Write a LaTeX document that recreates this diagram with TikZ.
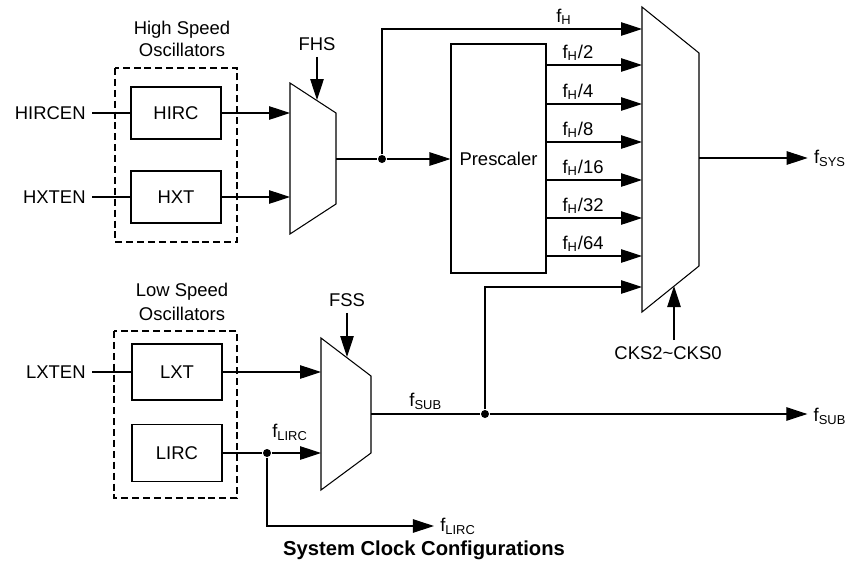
\documentclass[tikz,border=0pt]{standalone}
\usepackage{fontspec}
\setmainfont{Liberation Sans}
\usetikzlibrary{arrows.meta,positioning}

\begin{document}
\begin{tikzpicture}[
    x=0.02cm, y=-0.02cm, line width=0.6pt,
    font=\fontsize{10.5}{12.5}\selectfont,
    osc/.style={draw, rectangle, minimum width=1.8cm, minimum height=1.04cm},
    grp/.style={draw, dashed, line width=0.9pt, dash pattern=on 4pt off 2.2pt},
    sig/.style={inner sep=2pt},
    dot/.style={circle, fill, inner sep=0pt, minimum size=0.16cm},
    arr/.style={-{Triangle[length=0.42cm, width=0.27cm]}}
  ]
    \useasboundingbox (0,0) rectangle (848,575);

    % high speed oscillators
    \node at (182,30) {High Speed};
    \node at (182,50) {Oscillators};
    \draw[grp] (115,68) rectangle (237,242);
    \node[osc] (hirc) at (176,113) {HIRC};
    \node[osc] (hxt) at (176,197) {HXT};
    \node[anchor=east] (hircen) at (92,113) {HIRCEN};
    \node[anchor=east] (hxten) at (92,197) {HXTEN};
    \draw (hircen) -- (hirc);
    \draw (hxten) -- (hxt);

    % FHS mux
    \draw (290,83) -- (336,113) -- (336,204) -- (290,234) -- cycle;
    \coordinate (fhs-a) at (290,113);
    \coordinate (fhs-b) at (290,197);
    \coordinate (fhs-o) at (336,159);
    \coordinate (fhs-s) at (317,100);
    \node (fhs) at (317,44) {FHS};
    \draw[arr] (hirc) -- (fhs-a);
    \draw[arr] (hxt) -- (fhs-b);
    \draw[arr] (fhs.south) -- (fhs-s);

    % prescaler
    \node[draw, minimum width=1.9cm, minimum height=4.58cm] (pre) at (498.5,158.5) {Prescaler};
    \node[dot] (fh) at (382,159) {};
    \draw (fhs-o) -- (fh);
    \draw[arr] (fh) -- (fh -| pre.west);

    % system clock mux
    \draw (642,7) -- (699,53) -- (699,266) -- (642,312) -- cycle;
    \coordinate (sys-0) at (642,29);
    \foreach \i/\y in {1/65,2/104,3/142,4/180,5/218,6/256,7/287}
      \coordinate (sys-\i) at (642,\y);
    \coordinate (sys-o) at (699,158);
    \coordinate (sys-s) at (674,286);
    \draw[arr] (fh) |- node[pos=0.85, above, sig] {f\textsubscript{H}} (sys-0);
    \foreach \i/\d in {1/2,2/4,3/8,4/16,5/32,6/64}
      \draw[arr] (pre.east |- sys-\i) -- node[pos=0, above right, sig, xshift=0.24cm] {f\textsubscript{H}/\d} (sys-\i);
    \node (fsys) at (830,158) {f\textsubscript{SYS}};
    \draw[arr] (sys-o) -- (sys-o -| fsys.west);
    \node (cks) at (668,353) {CKS2\textasciitilde CKS0};
    \draw[arr] (cks.north -| sys-s) -- (sys-s);

    % low speed oscillators
    \node at (182,292) {Low Speed};
    \node at (182,314) {Oscillators};
    \draw[grp] (114,331) rectangle (237,498);
    \node[osc, minimum height=1.12cm] (lxt) at (177,372) {LXT};
    \node[osc, minimum height=1.14cm] (lirc) at (177,453) {LIRC};
    \node[anchor=east] (lxten) at (92,372) {LXTEN};
    \draw (lxten) -- (lxt);

    % FSS mux
    \draw (321,338) -- (371,376) -- (371,453) -- (321,490) -- cycle;
    \coordinate (fss-a) at (321,372);
    \coordinate (fss-b) at (321,453);
    \coordinate (fss-o) at (371,414);
    \coordinate (fss-s) at (347,357);
    \node (fss) at (347,300) {FSS};
    \draw[arr] (lxt) -- (fss-a);
    \draw[arr] (fss.south) -- (fss-s);
    \node[dot] (flirc) at (267,453) {};
    \draw (lirc) -- (flirc);
    \draw[arr] (flirc) -- (fss-b);
    \node at (290,432) {f\textsubscript{LIRC}};
    \node (lirco) at (458,526) {f\textsubscript{LIRC}};
    \draw[arr] (flirc) |- (lirco.west);

    % sub clock
    \node[dot] (fsub) at (485,414) {};
    \draw (fss-o) -- node[pos=0.5, above, sig] {f\textsubscript{SUB}} (fsub);
    \draw[arr] (fsub) |- (sys-7);
    \node (subo) at (830,416) {f\textsubscript{SUB}};
    \draw[arr] (fsub) -- (fsub -| subo.west);

    \node[font=\fontsize{11.5}{14}\selectfont\bfseries] (title) at (424,550) {System Clock Configurations};
\end{tikzpicture}
\end{document}
